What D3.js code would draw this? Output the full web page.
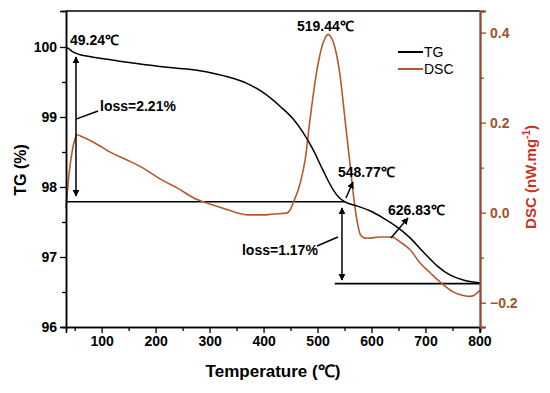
<!DOCTYPE html>
<html>
<head>
<meta charset="utf-8">
<script src="https://cdn.jsdelivr.net/npm/d3@7"></script>
<style>
  html, body { margin: 0; padding: 0; background: #fff; }
  svg { display: block; font-family: "Liberation Sans", Arial, sans-serif; }
</style>
</head>
<body>
<svg id="chart" width="550" height="393"></svg>
<script>
// ---- data ----
const tgData = [
  [34,100.0],[40,99.97],[47,99.93],[60,99.89],[80,99.86],[97,99.84],[130,99.8],[158,99.77],
  [190,99.74],[221,99.71],[250,99.69],[282,99.66],[306,99.625],[340,99.56],[369,99.48],
  [399,99.35],[431,99.15],[455,98.97],[473,98.78],[492,98.53],[510,98.24],[529,97.96],
  [540,97.85],[550,97.79],[573,97.73],[597,97.66],[621,97.56],[647,97.43],[672,97.27],
  [696,97.07],[722,96.87],[746,96.74],[770,96.67],[785,96.645],[801,96.63]
];
const dscData = [
  [34,0.01],[40,0.09],[45,0.133],[49,0.157],[54,0.173],[65,0.168],[84,0.157],[100,0.146],
  [115,0.135],[147,0.117],[177,0.099],[208,0.075],[240,0.055],[277,0.029],[288,0.024],
  [325,0.01],[350,0.0],[375,-0.005],[400,-0.005],[418,-0.003],[443,-0.001],[450,0.008],
  [455,0.022],[468,0.066],[477,0.117],[486,0.206],[499,0.317],[508,0.368],[514,0.388],
  [519.5,0.396],[525,0.39],[532,0.368],[542,0.302],[551,0.206],[560,0.11],[566,0.044],
  [573,-0.016],[579,-0.048],[585,-0.055],[592,-0.057],[616,-0.054],[638,-0.054],[653,-0.065],
  [672,-0.083],[690,-0.112],[709,-0.134],[727,-0.154],[751,-0.176],[770,-0.184],[783,-0.186],
  [797,-0.177],[801,-0.172]
];
const xTicks = [100,200,300,400,500,600,700,800];
const xMinor = [50,150,250,350,450,550,650,750];
const tgTicks = [96,97,98,99,100];
const tgMinor = [96.5,97.5,98.5,99.5];
const dscTicks = [-0.2,0.0,0.2,0.4];
const dscMinor = [-0.1,0.1,0.3];
const seriesNames = ["TG","DSC"];

// annotations in data units (T, TG%)
const baselines = [ {t0:34, t1:551, v:97.79}, {t0:532, t1:801, v:96.62} ];
const lossArrows = [ {t:52.5, v0:97.87, v1:99.857}, {t:545.3, v0:97.70, v1:96.67} ];
const leaders = [ {t0:52.5, v0:98.97, t1:93.3, v1:99.086}, {t0:499, v0:97.157, t1:537.9, v1:97.286} ];
const pointers = [ {t0:552.7, v0:97.843, t1:565.7, v1:98.071}, {t0:636.1, v0:97.271, t1:667.6, v1:97.557} ];
const labels = [
  {t:41.4, v:100.029, text:"49.24℃"},
  {t:462, v:100.229, text:"519.44℃"},
  {t:537.9, v:98.143, text:"548.77℃"},
  {t:630.5, v:97.60, text:"626.83℃"},
  {t:97, v:99.086, text:"loss=2.21%"},
  {t:360, v:97.029, text:"loss=1.17%"}
];

// ---- layout ----
const L = 66, R = 480, T = 11, B = 327;
const dscColor = "#b5592d", axisBrown = "#8e4a2c", tickBrown = "#a0522d", titleRed = "#c8321e";

const svg = d3.select("#chart");
const x = d3.scaleLinear().domain([34, 801]).range([L, R]);
const yTG = d3.scaleLinear().domain([96, 100.514]).range([B, T]);
const yDSC = d3.scaleLinear().domain([-0.254, 0.448]).range([B, T]);

const defs = svg.append("defs");
defs.append("marker").attr("id","ah").attr("viewBox","0 0 10 10").attr("refX",9).attr("refY",5)
  .attr("markerWidth",7).attr("markerHeight",7).attr("markerUnits","userSpaceOnUse").attr("orient","auto-start-reverse")
  .append("path").attr("d","M0,0 L10,5 L0,10 z").attr("fill","#000");

// curves
const lineTG = d3.line().x(d=>x(d[0])).y(d=>yTG(d[1])).curve(d3.curveMonotoneX);
const lineDSC = d3.line().x(d=>x(d[0])).y(d=>yDSC(d[1])).curve(d3.curveMonotoneX);

// baselines
svg.selectAll(".base").data(baselines).enter().append("line")
  .attr("x1",d=>x(d.t0)).attr("x2",d=>x(d.t1)).attr("y1",d=>yTG(d.v)).attr("y2",d=>yTG(d.v))
  .attr("stroke","#000").attr("stroke-width",1.6);

svg.append("path").datum(dscData).attr("d",lineDSC).attr("fill","none").attr("stroke",dscColor).attr("stroke-width",1.6);
svg.append("path").datum(tgData).attr("d",lineTG).attr("fill","none").attr("stroke","#000").attr("stroke-width",1.5);

// arrows
svg.selectAll(".la").data(lossArrows).enter().append("line")
  .attr("x1",d=>x(d.t)).attr("x2",d=>x(d.t)).attr("y1",d=>yTG(d.v0)).attr("y2",d=>yTG(d.v1))
  .attr("stroke","#000").attr("stroke-width",1.5)
  .attr("marker-start","url(#ah)").attr("marker-end","url(#ah)");
svg.selectAll(".ld").data(leaders).enter().append("line")
  .attr("x1",d=>x(d.t0)).attr("x2",d=>x(d.t1)).attr("y1",d=>yTG(d.v0)).attr("y2",d=>yTG(d.v1))
  .attr("stroke","#000").attr("stroke-width",1.5);
svg.selectAll(".pt").data(pointers).enter().append("line")
  .attr("x1",d=>x(d.t0)).attr("x2",d=>x(d.t1)).attr("y1",d=>yTG(d.v0)).attr("y2",d=>yTG(d.v1))
  .attr("stroke","#000").attr("stroke-width",1.5).attr("marker-end","url(#ah)");

svg.selectAll(".lbl").data(labels).enter().append("text")
  .attr("x",d=>x(d.t)).attr("y",d=>yTG(d.v)).text(d=>d.text)
  .attr("font-size",14).attr("font-weight","bold").attr("fill","#000");

// frame: top line
svg.append("line").attr("x1",L).attr("x2",R).attr("y1",T).attr("y2",T).attr("stroke","#000").attr("stroke-width",1.5);

// bottom axis
const gx = svg.append("g").attr("transform",`translate(0,${B})`)
  .call(d3.axisBottom(x).tickValues(xTicks).tickSize(6).tickPadding(3).tickFormat(d3.format("d")));
gx.append("g").call(d3.axisBottom(x).tickValues(xMinor).tickSize(4).tickFormat(""));
gx.selectAll("path.domain").attr("stroke","#000").attr("stroke-width",1.5);
gx.selectAll("g.tick line").attr("stroke","#000").attr("stroke-width",1.3);
gx.selectAll("text").attr("font-size",14).attr("font-weight","bold").attr("fill","#000")
  .attr("font-family","Liberation Sans, Arial, sans-serif");

// left axis
const gl = svg.append("g").attr("transform",`translate(${L},0)`)
  .call(d3.axisLeft(yTG).tickValues(tgTicks).tickSize(6).tickPadding(3).tickFormat(d3.format("d")));
gl.append("g").call(d3.axisLeft(yTG).tickValues(tgMinor).tickSize(4).tickFormat(""));
gl.selectAll("path.domain").attr("stroke","#000").attr("stroke-width",1.5);
gl.selectAll("g.tick line").attr("stroke","#000").attr("stroke-width",1.3);
gl.selectAll("text").attr("font-size",14).attr("font-weight","bold").attr("fill","#000")
  .attr("font-family","Liberation Sans, Arial, sans-serif");

// right axis
const gr = svg.append("g").attr("transform",`translate(${R},0)`)
  .call(d3.axisRight(yDSC).tickValues(dscTicks).tickSize(6).tickPadding(4).tickFormat(d3.format(".1f")));
gr.append("g").call(d3.axisRight(yDSC).tickValues(dscMinor).tickSize(4).tickFormat(""));
gr.selectAll("path.domain").attr("stroke",axisBrown).attr("stroke-width",1.8);
gr.selectAll("g.tick line").attr("stroke",axisBrown).attr("stroke-width",1.3);
gr.selectAll("text").attr("font-size",14).attr("font-weight","bold").attr("fill",tickBrown)
  .attr("font-family","Liberation Sans, Arial, sans-serif");

// axis titles
svg.append("text").attr("x",(L+R)/2).attr("y",377).attr("text-anchor","middle")
  .attr("font-size",17).attr("font-weight","bold").text("Temperature (℃)");
svg.append("text").attr("transform","translate(26,170) rotate(-90)").attr("text-anchor","middle")
  .attr("font-size",16).attr("font-weight","bold").text("TG (%)");
const dt = svg.append("text").attr("transform","translate(536,177) rotate(-90)").attr("text-anchor","middle")
  .attr("font-size",15).attr("font-weight","bold").attr("fill",titleRed);
dt.append("tspan").text("DSC (nW.mg");
dt.append("tspan").attr("dy",-6).attr("font-size",10).text("-1");
dt.append("tspan").attr("dy",6).text(")");

// legend
const lg = svg.append("g");
seriesNames.forEach((n,i)=>{
  const yy = 52 + i*17;
  lg.append("line").attr("x1",398).attr("x2",423).attr("y1",yy).attr("y2",yy)
    .attr("stroke", i===0 ? "#000" : dscColor).attr("stroke-width",2);
  lg.append("text").attr("x",424).attr("y",yy+5).attr("font-size",14).text(n);
});
</script>
</body>
</html>
